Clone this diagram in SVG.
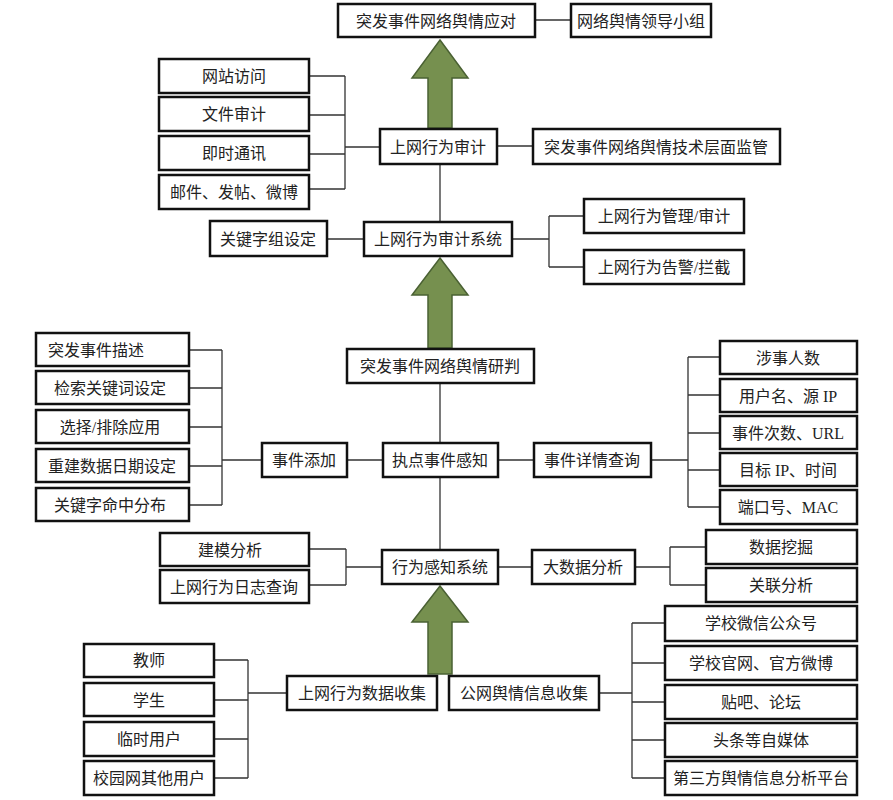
<svg xmlns="http://www.w3.org/2000/svg" width="893" height="800" viewBox="0 0 893 800">
<style>
.b rect{fill:#fff;stroke:#111;stroke-width:2.5}
.b text{font-family:"Liberation Serif","Noto Sans CJK SC",serif;font-size:16px;fill:#222;text-anchor:middle;dominant-baseline:central}
#c path{fill:none;stroke:#333;stroke-width:1.3}
.ar{fill:#76904f;stroke:#4a6133;stroke-width:1.5}
</style>
<rect width="893" height="800" fill="#fff"/>
<g id="c">
<path d="M535 20H571"/>
<path d="M309 76H345M309 115H345M309 154H345M309 189H345M345 76V189M345 147H380"/>
<path d="M497 146H533M440 164V222M327 239H364M512 239H549M549 216V267M549 216H584M549 267H584"/>
<path d="M440 383V443M347 460H383M222 460H262M222 350V505M189 350H222M189 388H222M189 427H222M189 466H222M189 505H222"/>
<path d="M498 460H534M651 460H688M688 357V507M688 357H720M688 395H720M688 433H720M688 470H720M688 507H720"/>
<path d="M440 477V550M346 567H382M346 549V585M309 549H346M309 585H346M498 567H532M635 567H670M670 547V585M670 547H706M670 585H706"/>
<path d="M248 693H287M248 660V778M214 660H248M214 700H248M214 739H248M214 778H248"/>
<path d="M599 693H632M632 623V778M632 623H665M632 663H665M632 702H665M632 740H665M632 778H665"/>
</g>
<g id="arrows">
<path class="ar" d="M440 40L468 78H452V128H428V78H412Z"/>
<path class="ar" d="M440 258L468 295H452V348H428V295H412Z"/>
<path class="ar" d="M440 586L468 622H452V674H428V622H412Z"/>
</g>
<g id="n1" class="b"><rect x="338" y="4" width="197" height="33"/><text x="436" y="21">突发事件网络舆情应对</text></g>
<g id="n2" class="b"><rect x="571" y="4" width="140" height="33"/><text x="641" y="21">网络舆情领导小组</text></g>
<g id="n3" class="b"><rect x="159" y="59" width="150" height="34"/><text x="234" y="76">网站访问</text></g>
<g id="n4" class="b"><rect x="159" y="97" width="150" height="34"/><text x="234" y="114">文件审计</text></g>
<g id="n5" class="b"><rect x="159" y="136" width="150" height="34"/><text x="234" y="153">即时通讯</text></g>
<g id="n6" class="b"><rect x="159" y="175" width="150" height="34"/><text x="234" y="192">邮件、发帖、微博</text></g>
<g id="n7" class="b"><rect x="380" y="129" width="117" height="35"/><text x="438" y="147">上网行为审计</text></g>
<g id="n8" class="b"><rect x="533" y="129" width="247" height="35"/><text x="656" y="147">突发事件网络舆情技术层面监管</text></g>
<g id="n9" class="b"><rect x="210" y="221" width="117" height="35"/><text x="268" y="239">关键字组设定</text></g>
<g id="n10" class="b"><rect x="364" y="222" width="148" height="34"/><text x="438" y="239">上网行为审计系统</text></g>
<g id="n11" class="b"><rect x="584" y="199" width="160" height="34"/><text x="664" y="216">上网行为管理/审计</text></g>
<g id="n12" class="b"><rect x="584" y="250" width="160" height="34"/><text x="664" y="267">上网行为告警/拦截</text></g>
<g id="n13" class="b"><rect x="347" y="349" width="187" height="34"/><text x="440" y="366">突发事件网络舆情研判</text></g>
<g id="n14" class="b"><rect x="383" y="443" width="115" height="34"/><text x="440" y="460">执点事件感知</text></g>
<g id="n15" class="b"><rect x="262" y="443" width="85" height="34"/><text x="304" y="460">事件添加</text></g>
<g id="n16" class="b"><rect x="36" y="333" width="153" height="33"/><text x="96" y="350">突发事件描述</text></g>
<g id="n17" class="b"><rect x="36" y="371" width="153" height="33"/><text x="110" y="388">检索关键词设定</text></g>
<g id="n18" class="b"><rect x="36" y="410" width="153" height="33"/><text x="110" y="427">选择/排除应用</text></g>
<g id="n19" class="b"><rect x="36" y="449" width="153" height="33"/><text x="112" y="466">重建数据日期设定</text></g>
<g id="n20" class="b"><rect x="36" y="488" width="153" height="33"/><text x="110" y="505">关键字命中分布</text></g>
<g id="n21" class="b"><rect x="534" y="443" width="117" height="34"/><text x="592" y="460">事件详情查询</text></g>
<g id="n22" class="b"><rect x="720" y="341" width="137" height="33"/><text x="788" y="358">涉事人数</text></g>
<g id="n23" class="b"><rect x="720" y="379" width="137" height="33"/><text x="788" y="396">用户名、源 IP</text></g>
<g id="n24" class="b"><rect x="720" y="416" width="137" height="33"/><text x="788" y="433">事件次数、URL</text></g>
<g id="n25" class="b"><rect x="720" y="453" width="137" height="33"/><text x="788" y="470">目标 IP、时间</text></g>
<g id="n26" class="b"><rect x="720" y="490" width="137" height="34"/><text x="788" y="507">端口号、MAC</text></g>
<g id="n27" class="b"><rect x="382" y="550" width="116" height="34"/><text x="440" y="567">行为感知系统</text></g>
<g id="n28" class="b"><rect x="160" y="533" width="149" height="33"/><text x="230" y="550">建模分析</text></g>
<g id="n29" class="b"><rect x="160" y="570" width="149" height="33"/><text x="234" y="587">上网行为日志查询</text></g>
<g id="n30" class="b"><rect x="532" y="550" width="103" height="34"/><text x="583" y="567">大数据分析</text></g>
<g id="n31" class="b"><rect x="706" y="530" width="151" height="34"/><text x="781" y="547">数据挖掘</text></g>
<g id="n32" class="b"><rect x="706" y="568" width="151" height="34"/><text x="781" y="585">关联分析</text></g>
<g id="n33" class="b"><rect x="287" y="676" width="150" height="34"/><text x="362" y="693">上网行为数据收集</text></g>
<g id="n34" class="b"><rect x="449" y="676" width="150" height="34"/><text x="524" y="693">公网舆情信息收集</text></g>
<g id="n35" class="b"><rect x="84" y="644" width="130" height="33"/><text x="149" y="660">教师</text></g>
<g id="n36" class="b"><rect x="84" y="683" width="130" height="33"/><text x="149" y="700">学生</text></g>
<g id="n37" class="b"><rect x="84" y="722" width="130" height="34"/><text x="149" y="739">临时用户</text></g>
<g id="n38" class="b"><rect x="84" y="761" width="130" height="34"/><text x="149" y="778">校园网其他用户</text></g>
<g id="n39" class="b"><rect x="665" y="606" width="192" height="35"/><text x="761" y="623">学校微信公众号</text></g>
<g id="n40" class="b"><rect x="665" y="646" width="192" height="34"/><text x="761" y="663">学校官网、官方微博</text></g>
<g id="n41" class="b"><rect x="665" y="685" width="192" height="34"/><text x="761" y="702">贴吧、论坛</text></g>
<g id="n42" class="b"><rect x="665" y="723" width="192" height="34"/><text x="761" y="740">头条等自媒体</text></g>
<g id="n43" class="b"><rect x="665" y="761" width="192" height="34"/><text x="761" y="778">第三方舆情信息分析平台</text></g>
</svg>
